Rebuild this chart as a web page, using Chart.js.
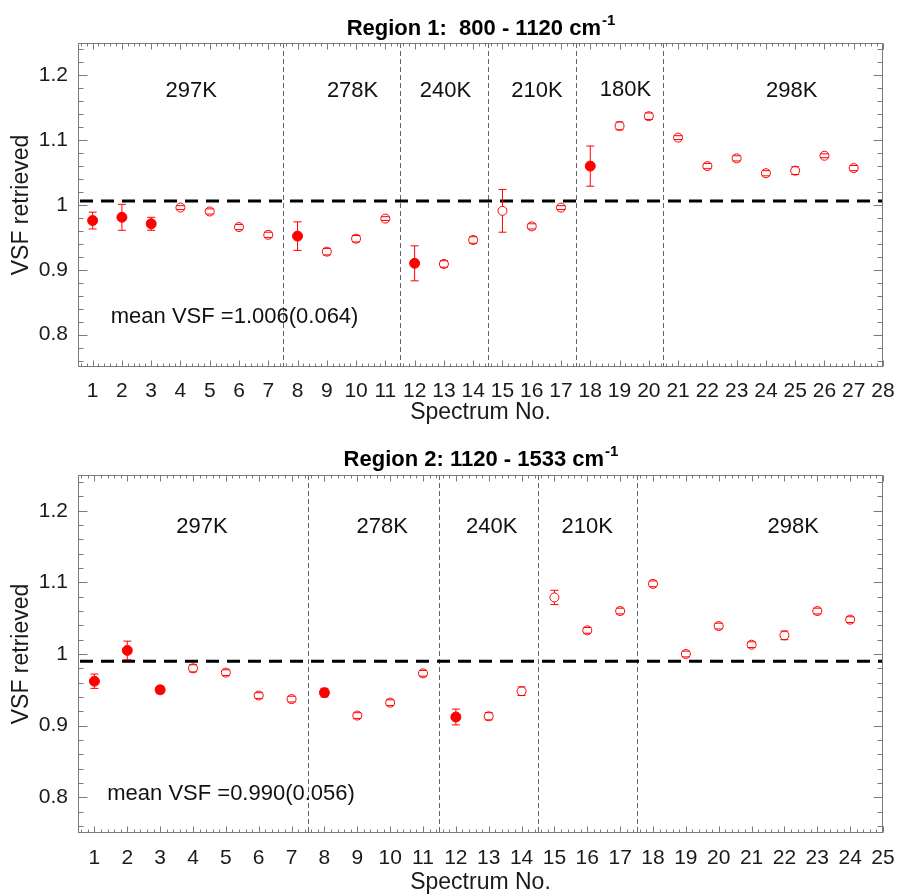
<!DOCTYPE html>
<html>
<head>
<meta charset="utf-8">
<script src="https://cdn.jsdelivr.net/npm/chart.js@4.4.1/dist/chart.umd.min.js"></script>
<style>
html,body{margin:0;padding:0;background:#fff;}
#wrap{position:relative;width:897px;height:896px;overflow:hidden;}
.pane{position:absolute;left:0;}
</style>
</head>
<body>
<div id="wrap">
  <div class="pane" style="top:0px"><canvas id="c1" width="897" height="438"></canvas></div>
  <div class="pane" style="top:438px"><canvas id="c2" width="897" height="458"></canvas></div>
</div>
<script>
// ---------------- DATA ----------------
// Region 1: 800 - 1120 cm-1
const spec1   = [1,2,3,4,5,6,7,8,9,10,11,12,13,14,15,16,17,18,19,20,21,22,23,24,25,26,27];
const vsf1    = [0.976,0.981,0.971,0.996,0.990,0.966,0.954,0.952,0.928,0.948,0.979,0.910,0.909,0.946,0.991,0.967,0.996,1.060,1.122,1.137,1.104,1.060,1.072,1.049,1.053,1.076,1.057];
const err1    = [0.013,0.020,0.010,0.003,0.004,0.004,0.004,0.022,0.005,0.005,0.003,0.027,0.005,0.005,0.033,0.004,0.003,0.031,0.006,0.005,0.003,0.004,0.004,0.004,0.006,0.003,0.004];
const filled1 = [1,1,1,0,0,0,0,1,0,0,0,1,0,0,0,0,0,1,0,0,0,0,0,0,0,0,0];
const xTicks1 = [1,2,3,4,5,6,7,8,9,10,11,12,13,14,15,16,17,18,19,20,21,22,23,24,25,26,27,28];
const dividers1 = [7.5,11.5,14.5,17.5,20.5];
const mean1 = 1.006;
const meanText1 = 'mean VSF =1.006(0.064)';
const tempLabels1 = ['297K','278K','240K','210K','180K','298K'];
const tempX1 = [4.37,9.88,13.05,16.18,19.2,24.88];
const tempY1 = [1.176,1.176,1.176,1.176,1.178,1.176];
const title1 = 'Region 1:  800 - 1120 cm';

// Region 2: 1120 - 1533 cm-1
const spec2   = [1,2,3,4,5,6,7,8,9,10,11,12,13,14,15,16,17,18,19,20,21,22,23,24];
const vsf2    = [0.962,1.005,0.950,0.980,0.974,0.942,0.937,0.946,0.914,0.932,0.973,0.912,0.913,0.948,1.079,1.033,1.060,1.098,1.000,1.039,1.013,1.026,1.060,1.048];
const err2    = [0.010,0.013,0.005,0.005,0.004,0.004,0.004,0.006,0.004,0.004,0.004,0.011,0.005,0.006,0.010,0.004,0.004,0.004,0.004,0.004,0.004,0.006,0.004,0.004];
const filled2 = [1,1,1,0,0,0,0,1,0,0,0,1,0,0,0,0,0,0,0,0,0,0,0,0];
const xTicks2 = [1,2,3,4,5,6,7,8,9,10,11,12,13,14,15,16,17,18,19,20,21,22,23,24,25];
const dividers2 = [7.5,11.5,14.5,17.5];
const mean2 = 0.990;
const meanText2 = 'mean VSF =0.990(0.056)';
const tempLabels2 = ['297K','278K','240K','210K','298K'];
const tempX2 = [4.27,9.76,13.09,16.0,22.27];
const tempY2 = [1.177,1.177,1.177,1.177,1.177];
const title2 = 'Region 2: 1120 - 1533 cm';

const yTicks = [0.8,0.9,1.0,1.1,1.2];
const titleSup = '-1';

// ---------------- DRAWING ----------------
const FONT = '"Liberation Sans", Arial, Helvetica, sans-serif';
const RED = '#ff0000';
const R_FILLED = 5, R_OPEN = 4.5;

const deco = {
  id: 'deco',
  beforeDatasetsDraw(chart, args, o) {
    const {ctx, chartArea: a, scales: {x, y}} = chart;
    ctx.save();
    ctx.beginPath(); ctx.rect(a.left, a.top, a.right - a.left, a.bottom - a.top); ctx.clip();
    // vertical dividers
    ctx.strokeStyle = '#666666'; ctx.lineWidth = 1; ctx.setLineDash([5, 3]);
    o.dividers.forEach(d => {
      const px = Math.round(x.getPixelForValue(d)) + 0.5;
      ctx.beginPath(); ctx.moveTo(px, a.top); ctx.lineTo(px, a.bottom); ctx.stroke();
    });
    // mean line
    ctx.strokeStyle = '#000'; ctx.lineWidth = 3; ctx.setLineDash([13, 8]);
    const py = y.getPixelForValue(o.mean);
    ctx.beginPath(); ctx.moveTo(a.left + 2, py); ctx.lineTo(a.right, py); ctx.stroke();
    ctx.restore();
  },
  afterDatasetsDraw(chart, args, o) {
    const {ctx, chartArea: a, scales: {x, y}} = chart;
    ctx.save();
    // error bars
    ctx.strokeStyle = RED; ctx.lineWidth = 1; ctx.setLineDash([]);
    o.xs.forEach((xv, i) => {
      const v = o.ys[i], e = o.errs[i];
      const px = x.getPixelForValue(xv), py = y.getPixelForValue(v);
      const pt = y.getPixelForValue(v + e), pb = y.getPixelForValue(v - e);
      const r = o.filled[i] ? R_FILLED : R_OPEN;
      ctx.beginPath();
      if (pt < py - r) { ctx.moveTo(px, py - r); ctx.lineTo(px, pt); }
      if (pb > py + r) { ctx.moveTo(px, py + r); ctx.lineTo(px, pb); }
      ctx.moveTo(px - 4, pt); ctx.lineTo(px + 4, pt);
      ctx.moveTo(px - 4, pb); ctx.lineTo(px + 4, pb);
      ctx.stroke();
    });
    // frame
    ctx.strokeStyle = '#7a7a7a'; ctx.lineWidth = 1;
    const L = Math.round(a.left) + 0.5, Rr = Math.round(a.right) - 0.5, T = Math.round(a.top) + 0.5, B = Math.round(a.bottom) - 0.5;
    ctx.strokeRect(L, T, Rr - L, B - T);
    // x ticks (inward, top and bottom)
    ctx.beginPath();
    for (let k = Math.ceil(x.min * 5); k <= Math.floor(x.max * 5 + 1e-6); k++) {
      const v = k / 5; const major = (k % 5 === 0);
      const len = major ? 6 : 3;
      const px = Math.round(x.getPixelForValue(v)) + 0.5;
      ctx.moveTo(px, B); ctx.lineTo(px, B - len);
      ctx.moveTo(px, T); ctx.lineTo(px, T + len);
    }
    // y ticks (inward, left and right)
    for (let k = Math.ceil(y.min * 50 - 1e-6); k <= Math.floor(y.max * 50 + 1e-6); k++) {
      const v = k / 50; const major = (k % 5 === 0);
      const len = major ? 9 : 5;
      const py = Math.round(y.getPixelForValue(v)) + 0.5;
      ctx.moveTo(L, py); ctx.lineTo(L + len, py);
      ctx.moveTo(Rr, py); ctx.lineTo(Rr - len, py);
    }
    ctx.stroke();
    // temperature labels
    ctx.fillStyle = '#111';
    ctx.font = '22px ' + FONT; ctx.textAlign = 'center'; ctx.textBaseline = 'middle';
    o.tempLabels.forEach((t, i) => ctx.fillText(t, x.getPixelForValue(o.tempX[i]), y.getPixelForValue(o.tempY[i])));
    // mean text
    ctx.textAlign = 'left';
    ctx.fillText(o.meanText, x.getPixelForValue(o.meanX), y.getPixelForValue(o.meanY));
    ctx.restore();
  },
  afterDraw(chart, args, o) {
    const {ctx, chartArea: a} = chart;
    ctx.save();
    ctx.fillStyle = '#000'; ctx.textBaseline = 'alphabetic'; ctx.textAlign = 'left';
    ctx.font = 'bold 22px ' + FONT;
    const w1 = ctx.measureText(o.title).width;
    ctx.font = 'bold 15px ' + FONT;
    const w2 = ctx.measureText(o.sup).width;
    const x0 = (a.left + a.right) / 2 - (w1 + w2) / 2;
    ctx.font = 'bold 22px ' + FONT;
    ctx.fillText(o.title, x0, o.titleY);
    ctx.font = 'bold 15px ' + FONT;
    ctx.fillText(o.sup, x0 + w1 + 1, o.titleY - 10);
    ctx.restore();
  }
};

function makeChart(id, p) {
  const pts = p.xs.map((xv, i) => ({x: xv, y: p.ys[i]}));
  return new Chart(document.getElementById(id), {
    type: 'scatter',
    data: {
      datasets: [{
        data: pts,
        pointStyle: 'circle',
        pointRadius: p.filled.map(f => f ? R_FILLED : R_OPEN),
        pointHoverRadius: p.filled.map(f => f ? R_FILLED : R_OPEN),
        pointBackgroundColor: p.filled.map(f => f ? RED : '#ffffff'),
        pointBorderColor: RED,
        pointBorderWidth: 1,
        showLine: false
      }]
    },
    options: {
      responsive: false,
      animation: false,
      events: [],
      layout: {padding: {top: p.padTop, right: 14, left: 0, bottom: 0}},
      plugins: {
        legend: {display: false},
        tooltip: {enabled: false},
        deco: p
      },
      scales: {
        x: {
          type: 'linear', min: 0.5, max: p.xmax,
          grid: {display: false, drawTicks: false},
          border: {display: false},
          afterBuildTicks: s => { s.ticks = p.xTicks.map(v => ({value: v})); },
          afterFit: s => { s.height = p.xAxisH; s.paddingLeft = 0; s.paddingRight = 0; },
          ticks: {font: {size: 21, family: FONT}, color: '#1a1a1a', padding: p.xTickPad, maxRotation: 0, autoSkip: false,
                  callback: v => String(v)},
          title: {display: true, text: 'Spectrum No.', font: {size: 23, family: FONT}, color: '#1a1a1a',
                  padding: {top: 0, bottom: p.xTitlePad}}
        },
        y: {
          type: 'linear', min: 0.75, max: 1.25,
          grid: {display: false, drawTicks: false},
          border: {display: false},
          afterBuildTicks: s => { s.ticks = yTicks.map(v => ({value: v})); },
          afterFit: s => { s.width = 78; s.paddingTop = 0; s.paddingBottom = 0; },
          ticks: {font: {size: 21, family: FONT}, color: '#1a1a1a', padding: 10,
                  callback: v => String(parseFloat(v.toFixed(2)))},
          title: {display: true, text: 'VSF retrieved', font: {size: 23, family: FONT}, color: '#1a1a1a',
                  padding: {top: 8, bottom: 0}}
        }
      }
    },
    plugins: [deco]
  });
}

makeChart('c1', {
  xs: spec1, ys: vsf1, errs: err1, filled: filled1, xTicks: xTicks1, xmax: 28,
  dividers: dividers1, mean: mean1, meanText: meanText1, meanX: 1.62, meanY: 0.827,
  tempLabels: tempLabels1, tempX: tempX1, tempY: tempY1,
  title: title1, sup: titleSup, titleY: 35,
  padTop: 43, xAxisH: 71, xTickPad: 12, xTitlePad: 12
});
makeChart('c2', {
  xs: spec2, ys: vsf2, errs: err2, filled: filled2, xTicks: xTicks2, xmax: 25,
  dividers: dividers2, mean: mean2, meanText: meanText2, meanX: 1.39, meanY: 0.804,
  tempLabels: tempLabels2, tempX: tempX2, tempY: tempY2,
  title: title2, sup: titleSup, titleY: 28,
  padTop: 37, xAxisH: 63, xTickPad: 13, xTitlePad: 0
});
</script>
</body>
</html>
